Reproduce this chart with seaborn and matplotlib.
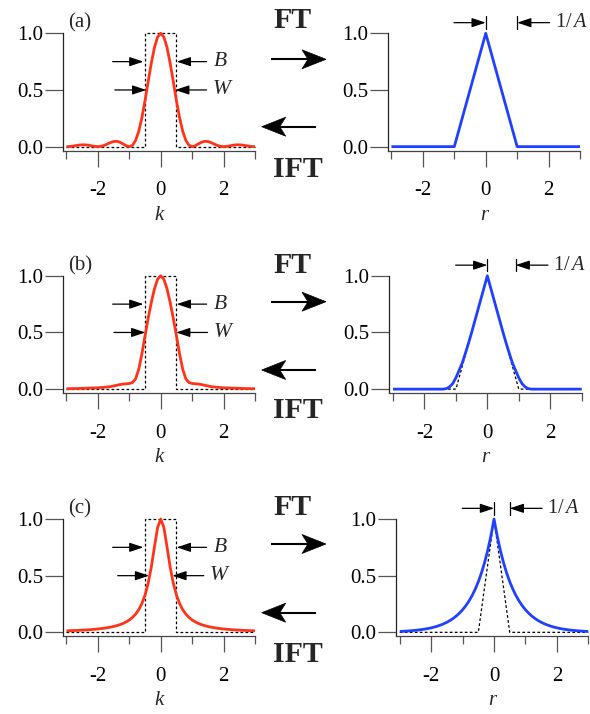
import matplotlib
matplotlib.use("Agg")
import matplotlib.pyplot as plt
from matplotlib.patches import Polygon
from matplotlib.lines import Line2D
import pandas as pd
import seaborn as sns

# ---------------- data ----------------
K = [-3.0, -2.9, -2.8, -2.7, -2.6, -2.5, -2.4, -2.3, -2.2, -2.1, -2.0, -1.9, -1.8, -1.7, -1.6,
     -1.5, -1.4, -1.3, -1.2, -1.1, -1.0, -0.9, -0.8, -0.7, -0.6, -0.5, -0.4, -0.3, -0.2, -0.1,
     0.0, 0.1, 0.2, 0.3, 0.4, 0.5, 0.6, 0.7, 0.8, 0.9, 1.0, 1.1, 1.2, 1.3, 1.4, 1.5,
     1.6, 1.7, 1.8, 1.9, 2.0, 2.1, 2.2, 2.3, 2.4, 2.5, 2.6, 2.7, 2.8, 2.9, 3.0]

# (a) k-space spectrum
spec_a = [0.0, 0.0012, 0.0045, 0.0091, 0.0136, 0.0162, 0.0159, 0.0125, 0.0072, 0.0022, 0.0,
          0.0027, 0.0108, 0.0230, 0.0358, 0.0450, 0.0468, 0.0392, 0.0243, 0.0080, 0.0,
          0.0119, 0.0547, 0.1353, 0.2546, 0.4053, 0.5728, 0.7368, 0.8751, 0.9675, 1.0,
          0.9675, 0.8751, 0.7368, 0.5728, 0.4053, 0.2546, 0.1353, 0.0547, 0.0119, 0.0,
          0.0080, 0.0243, 0.0392, 0.0468, 0.0450, 0.0358, 0.0230, 0.0108, 0.0027, 0.0,
          0.0022, 0.0072, 0.0125, 0.0159, 0.0162, 0.0136, 0.0091, 0.0045, 0.0012, 0.0]
# (b) k-space spectrum
spec_b = [0.004, 0.004, 0.005, 0.005, 0.006, 0.007, 0.008, 0.009, 0.010, 0.011, 0.012,
          0.014, 0.016, 0.019, 0.022, 0.028, 0.034, 0.040, 0.045, 0.047, 0.050,
          0.058, 0.090, 0.175, 0.310, 0.470, 0.625, 0.765, 0.885, 0.970, 1.0,
          0.970, 0.885, 0.765, 0.625, 0.470, 0.310, 0.175, 0.090, 0.058, 0.050,
          0.047, 0.045, 0.040, 0.034, 0.028, 0.022, 0.019, 0.016, 0.014, 0.012,
          0.011, 0.010, 0.009, 0.008, 0.007, 0.006, 0.005, 0.005, 0.004, 0.004]
# (c) k-space spectrum
spec_c = [0.0134, 0.0143, 0.0154, 0.0165, 0.0178, 0.0192, 0.0208, 0.0226, 0.0247, 0.0271, 0.0297,
          0.0328, 0.0364, 0.0407, 0.0457, 0.0516, 0.0588, 0.0676, 0.0784, 0.0919, 0.1091,
          0.1314, 0.1607, 0.2000, 0.2539, 0.3289, 0.4336, 0.5765, 0.7538, 0.9245, 1.0,
          0.9245, 0.7538, 0.5765, 0.4336, 0.3289, 0.2539, 0.2000, 0.1607, 0.1314, 0.1091,
          0.0919, 0.0784, 0.0676, 0.0588, 0.0516, 0.0457, 0.0407, 0.0364, 0.0328, 0.0297,
          0.0271, 0.0247, 0.0226, 0.0208, 0.0192, 0.0178, 0.0165, 0.0154, 0.0143, 0.0134]

# r-space functions
r_tri = [-3.0, -1.0, 0.0, 1.0, 3.0]
f_tri = [0.0, 0.0, 1.0, 0.0, 0.0]
f_b = [0.0, 0.0, 0.0, 0.0, 0.0, 0.0, 0.0, 0.0, 0.0, 0.0, 0.0,
       0.0, 0.0, 0.0, 0.0, 0.0, 0.0, 0.005, 0.020, 0.050, 0.100,
       0.165, 0.230, 0.315, 0.405, 0.500, 0.600, 0.700, 0.800, 0.900, 1.0,
       0.900, 0.800, 0.700, 0.600, 0.500, 0.405, 0.315, 0.230, 0.165, 0.100,
       0.050, 0.020, 0.005, 0.0, 0.0, 0.0, 0.0, 0.0, 0.0, 0.0,
       0.0, 0.0, 0.0, 0.0, 0.0, 0.0, 0.0, 0.0, 0.0, 0.0]
f_c = [0.0079, 0.0093, 0.0109, 0.0128, 0.0151, 0.0177, 0.0208, 0.0245, 0.0288, 0.0338, 0.0397,
       0.0467, 0.0549, 0.0645, 0.0757, 0.0890, 0.1046, 0.1229, 0.1444, 0.1697, 0.1993,
       0.2342, 0.2752, 0.3234, 0.3800, 0.4465, 0.5246, 0.6164, 0.7243, 0.8510, 1.0,
       0.8510, 0.7243, 0.6164, 0.5246, 0.4465, 0.3800, 0.3234, 0.2752, 0.2342, 0.1993,
       0.1697, 0.1444, 0.1229, 0.1046, 0.0890, 0.0757, 0.0645, 0.0549, 0.0467, 0.0397,
       0.0338, 0.0288, 0.0245, 0.0208, 0.0177, 0.0151, 0.0128, 0.0109, 0.0093, 0.0079]
r_tri_c = [-3.0, -0.5, 0.0, 0.5, 3.0]
f_tri_c = [0.0, 0.0, 1.0, 0.0, 0.0]

# box window in k-space
k_box = [-3.0, -0.5, -0.5, 0.5, 0.5, 3.0]
w_box = [0.0, 0.0, 1.0, 1.0, 0.0, 0.0]

panel_labels = ["(a)", "(b)", "(c)"]
half_width = [0.46, 0.49, 0.37]     # W arrow tips
res_mark = [1.0, 0.9, 0.5]          # 1/A bar positions
xtick_major = [-2, 0, 2]
xtick_labels = ["-2", "0", "2"]
xtick_minor = [-3, -1, 1, 3]
ytick_vals = [0.0, 0.5, 1.0]
ytick_labels = ["0.0", "0.5", "1.0"]

RED = "#ff3318"
BLUE = "#2040ff"

# ---------------- style ----------------
sns.set_theme(style="ticks")
plt.rcParams["font.family"] = ["Liberation Serif", "DejaVu Serif"]
plt.rcParams["mathtext.fontset"] = "custom"
plt.rcParams["mathtext.rm"] = "Liberation Serif"
plt.rcParams["mathtext.it"] = "Liberation Serif:italic"

W, H = 590.0, 714.0
fig = plt.figure(figsize=(W / 100, H / 100), dpi=100)

AX_W, AX_H = 192.3, 117.3
tops = [33.3, 275.8, 519.0]
lefts_L = [62.7, 62.7, 62.7]
lefts_R = [387.7, 389.3, 396.0]

TICK_FS = 15


def make_ax(left_px, top_px):
    ax = fig.add_axes([left_px / W, 1 - (top_px + AX_H) / H, AX_W / W, AX_H / H])
    ax.set_facecolor("none")
    ax.set_xlim(-3.12, 3.0)
    ax.set_ylim(-0.035, 1.0)
    for s in ["top", "right"]:
        ax.spines[s].set_visible(False)
    ax.spines["left"].set_color("#222222")
    ax.spines["bottom"].set_color("#444444")
    ax.spines["left"].set_linewidth(0.9)
    ax.spines["bottom"].set_linewidth(0.9)
    ax.set_xticks(xtick_major)
    ax.set_xticklabels(xtick_labels)
    ax.set_xticks(xtick_minor, minor=True)
    ax.set_yticks(ytick_vals)
    ax.set_yticklabels(ytick_labels)
    ax.tick_params(axis="x", which="major", length=11.5, width=0.9, color="#555555",
                   pad=10.5, labelsize=TICK_FS, labelcolor="black")
    ax.tick_params(axis="x", which="minor", length=5.8, width=0.9, color="#555555")
    ax.tick_params(axis="y", which="major", length=12.7, width=0.9, color="#555555",
                   pad=1.5, labelsize=TICK_FS, labelcolor="black")
    return ax


def draw(ax, x, y, color, lw, dashed=False):
    sns.lineplot(x=x, y=y, ax=ax, color=color, lw=lw, estimator=None, sort=False,
                 clip_on=False, legend=False)
    ln = ax.lines[-1]
    if dashed:
        ln.set_linestyle((0, (2.2, 1.8)))
    ln.set_solid_capstyle("butt")


arrow_small = "-|>,head_length=0.6,head_width=0.2"

spectra = [spec_a, spec_b, spec_c]
rfuncs = [(r_tri, f_tri, None), (K, f_b, (r_tri, f_tri)), (K, f_c, (r_tri_c, f_tri_c))]

for i in range(3):
    # ---- left: k-space ----
    axL = make_ax(lefts_L[i], tops[i])
    draw(axL, k_box, w_box, "black", 0.9, dashed=True)
    draw(axL, K, spectra[i], RED, 2.0)
    axL.set_xlabel("k", fontsize=15, fontstyle="italic", labelpad=4)
    axL.text(-2.94, 1.09, panel_labels[i], fontsize=15, ha="left", va="center", clip_on=False)
    # B arrows
    for (x0, x1) in [(-1.53, -0.55), (1.46, 0.51)]:
        axL.annotate("", xy=(x1, 0.75), xytext=(x0, 0.75),
                     arrowprops=dict(arrowstyle=arrow_small, mutation_scale=14, lw=0.9,
                                     color="black", shrinkA=0, shrinkB=0),
                     annotation_clip=False)
    hw = half_width[i]
    for (x0, x1) in [(-hw - 1.0, -hw), (hw + 1.0, hw)]:
        axL.annotate("", xy=(x1, 0.5), xytext=(x0, 0.5),
                     arrowprops=dict(arrowstyle=arrow_small, mutation_scale=14, lw=0.9,
                                     color="black", shrinkA=0, shrinkB=0),
                     annotation_clip=False)
    axL.text(1.68, 0.75, "B", fontsize=15.5, fontstyle="italic", ha="left", va="center")
    axL.text(hw + 1.2, 0.5, "W", fontsize=15.5, fontstyle="italic", ha="left", va="center")

    # ---- right: r-space ----
    axR = make_ax(lefts_R[i], tops[i])
    xr, yr, guide = rfuncs[i]
    if guide is not None:
        draw(axR, guide[0], guide[1], "black", 0.9, dashed=True)
    draw(axR, xr, yr, BLUE, 2.0)
    axR.set_xlabel("r", fontsize=15, fontstyle="italic", labelpad=4)
    ya = 1.094
    m = res_mark[i]
    axR.annotate("", xy=(0.0, ya), xytext=(-1.01, ya),
                 arrowprops=dict(arrowstyle=arrow_small, mutation_scale=14, lw=0.9,
                                 color="black", shrinkA=0, shrinkB=0),
                 annotation_clip=False)
    axR.annotate("", xy=(m, ya), xytext=(m + 1.03, ya),
                 arrowprops=dict(arrowstyle=arrow_small, mutation_scale=14, lw=0.9,
                                 color="black", shrinkA=0, shrinkB=0),
                 annotation_clip=False)
    for xb in (0.0, m):
        axR.plot([xb, xb], [ya - 0.055, ya + 0.055], color="black", lw=0.9, clip_on=False)
    axR.text(m + 1.2, ya, r"$\mathrm{1/}\,A$", fontsize=14.5, ha="left", va="center",
             clip_on=False)

# ---------------- FT / IFT arrows ----------------
ft_base = [28.3, 273.3, 515.0]
ift_base = [176.7, 418.3, 661.7]
arr_r_y = [59.3, 301.7, 544.0]
arr_l_y = [126.7, 370.0, 612.7]


def fx(px):
    return px / W


def fy(py):
    return 1 - py / H


def big_arrow(x_tail, x_tip, y):
    d = 1 if x_tip > x_tail else -1
    back = x_tip - d * 24.0
    notch = x_tip - d * 18.0
    fig.add_artist(Line2D([fx(x_tail), fx(notch + d * 2)], [fy(y), fy(y)],
                          transform=fig.transFigure, color="black", lw=1.5,
                          solid_capstyle="butt"))
    fig.add_artist(Polygon([(fx(x_tip), fy(y)), (fx(back), fy(y - 9.5)),
                            (fx(notch), fy(y)), (fx(back), fy(y + 9.5))],
                           closed=True, transform=fig.transFigure, facecolor="black",
                           edgecolor="black", lw=0.5))


for i in range(3):
    fig.text(fx(292.2), fy(ft_base[i]), "FT", fontsize=21.5, fontweight="bold",
             ha="center", va="baseline")
    fig.text(fx(298.0), fy(ift_base[i]), "IFT", fontsize=21.5, fontweight="bold",
             ha="center", va="baseline")
    big_arrow(270.7, 326.0, arr_r_y[i])
    big_arrow(316.0, 261.7, arr_l_y[i])

fig.savefig("out.png", dpi=100, facecolor="white")
